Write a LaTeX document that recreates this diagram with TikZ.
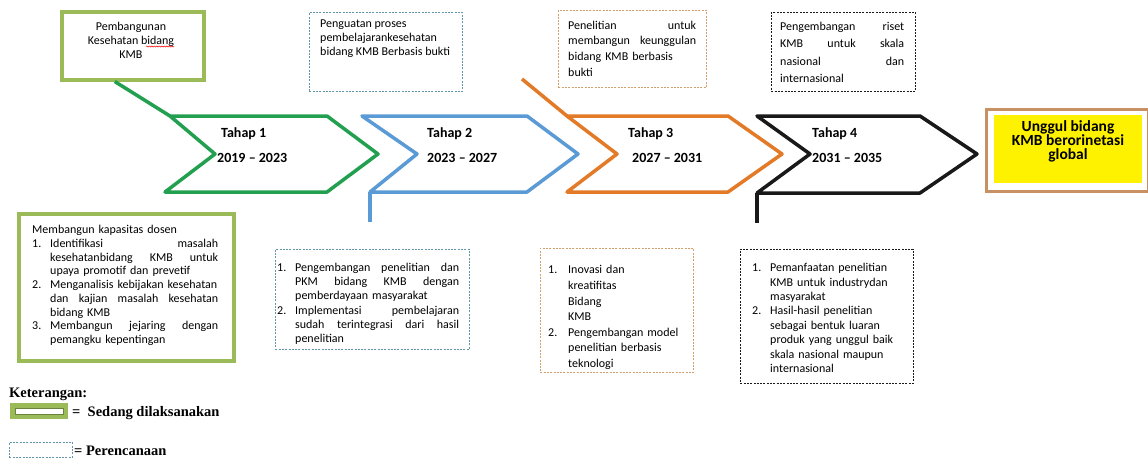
\documentclass[tikz,border=0pt]{standalone}
\usepackage{fontspec}
\setmainfont{Carlito}
\newfontfamily\legendfont{Liberation Serif}
\usetikzlibrary{positioning,decorations.pathmorphing}

\definecolor{tgreen}{RGB}{34,160,80}
\definecolor{tblue}{RGB}{91,155,213}
\definecolor{torange}{RGB}{226,122,40}
\definecolor{tblack}{RGB}{25,25,25}
\definecolor{olivebox}{RGB}{155,187,89}
\definecolor{dblue}{RGB}{100,150,170}
\definecolor{dorange}{RGB}{210,160,110}
\definecolor{goaltan}{RGB}{200,145,100}

\tikzset{
  chev/.style={line width=3.5pt, line join=round},
  donebox/.style={draw=olivebox, line width=3.5pt, anchor=north west, inner sep=0pt},
  planbox/.style={draw=#1, dash pattern=on 2pt off 1.3pt, line width=0.7pt, anchor=north west, inner sep=0pt},
  boxtext/.style={font=\fontsize{12}{14}\selectfont, inner sep=0pt, align=left, anchor=north west},
  tahap/.style={font=\bfseries\fontsize{14}{16}\selectfont, inner sep=0pt, anchor=base west},
  legendtext/.style={font=\legendfont\bfseries\fontsize{14.5}{16}\selectfont, inner sep=0pt, anchor=base west}
}

\newcommand{\numitem}[3][18pt]{\par\noindent\hangindent=#1\hangafter=1\makebox[#1][l]{#2}#3}

\begin{document}
\begin{tikzpicture}[x=1pt,y=-1pt]
\useasboundingbox (0,0) rectangle (1148,459);

% boxes above the arrows
\node[donebox, minimum width=142pt, minimum height=68pt] (b1) at (60,10) {};
\node[boxtext, anchor=north, align=center] (b1t) at (131,21.5) {Pembangunan\\Kesehatan bidang\\KMB};
\draw[red, line width=0.5pt, decorate, decoration={snake, amplitude=0.6pt, segment length=2.5pt}] ([shift={(15pt,-25pt)}]b1t.north) -- ++(28,0);

\node[planbox=dblue, minimum width=153pt, minimum height=79pt] (b2) at (309,12) {};
\node[boxtext] (b2t) at (320,20) {Penguatan proses\\pembelajarankesehatan\\bidang KMB Berbasis bukti};

\node[planbox=dorange, minimum width=148pt, minimum height=77pt] (b3) at (558,10) {};
\node[boxtext, text width=128pt, font=\fontsize{12}{15.8}\selectfont] (b3t) at (568,20.5) {Penelitian\hfill untuk\newline membangun\hfill keunggulan\newline bidang KMB berbasis\newline bukti};

\node[planbox=tblack, minimum width=144pt, minimum height=79pt] (b4) at (771,12) {};
\node[boxtext, text width=124pt, font=\fontsize{12}{17.6}\selectfont] (b4t) at (780,21.5) {Pengembangan\hfill riset\newline KMB\hfill untuk\hfill skala\newline nasional\hfill dan\newline internasional};

% the four stages
\draw[chev, tgreen] (170,116) coordinate (g1) -- (327,116) -- (378,154) -- (327,192) -- (165,192) -- (215,154) -- cycle;
\draw[chev, tgreen] ([xshift=-18pt]b1.south) -- (g1);
\node[tahap] (t1) at (221,137) {Tahap 1};
\node[tahap] (y1) at (217,162) {2019 -- 2023};

\draw[chev, tblue] (362,116) -- (527,116) -- (578,154) -- (527,192) -- (370,192) coordinate (g2) -- (417,154) -- cycle;
\coordinate (g2end) at (370,222);
\draw[chev, tblue] (g2) -- (g2end);
\node[tahap] (t2) at (427,137) {Tahap 2};
\node[tahap] (y2) at (427,162) {2023 -- 2027};

\draw[chev, torange] (567,116) coordinate (g3) -- (728,116) -- (782,154) -- (728,192) -- (567,192) -- (617,154) -- cycle;
\coordinate (g3end) at (522,79);
\draw[chev, torange] (g3end) -- (g3);
\node[tahap] (t3) at (628,137) {Tahap 3};
\node[tahap] (y3) at (632,162) {2027 -- 2031};

\draw[chev, tblack] (757,116) -- (920,116) -- (977,154) -- (920,193) -- (757,193) coordinate (g4) -- (810,154) -- cycle;
\coordinate (g4end) at (757,223);
\draw[chev, tblack] (g4) -- (g4end);
\node[tahap] (t4) at (812,137) {Tahap 4};
\node[tahap] (y4) at (812,162) {2031 -- 2035};

% goal
\node[draw=goaltan, line width=2.5pt, minimum width=162pt, minimum height=82pt, anchor=north west, inner sep=0pt] (goalbox) at (985,108) {};
\node[fill=yellow, minimum width=148pt, minimum height=68pt, anchor=north west, inner sep=0pt] (goalfill) at (994,115) {};
\node[font=\bfseries\fontsize{15.5}{14}\selectfont, align=center, inner sep=0pt] (goal) at (1068,141) {Unggul bidang\\KMB berorinetasi\\global};

% boxes below the arrows
\node[donebox, minimum width=215pt, minimum height=147pt] (b5) at (17,212) {};
\node[boxtext, text width=186pt, font=\fontsize{12}{13.75}\selectfont] (b5t) at (32,225) {Membangun kapasitas dosen
\numitem{1.}{Identifikasi\hfill masalah\newline kesehatanbidang\hfill KMB\hfill untuk\newline upaya promotif dan prevetif}
\numitem{2.}{Menganalisis kebijakan kesehatan\newline dan\hfill kajian\hfill masalah\hfill kesehatan\newline bidang KMB}
\numitem{3.}{Membangun\hfill jejaring\hfill dengan\newline pemangku kepentingan}\par};

\node[planbox=dblue, minimum width=194pt, minimum height=100pt] (b6) at (275,249) {};
\node[boxtext, text width=182pt, font=\fontsize{12}{14.2}\selectfont] (b6t) at (277,257) {\numitem{1.}{Pengembangan\hfill penelitian\hfill dan\newline PKM\hfill bidang\hfill KMB\hfill dengan\newline pemberdayaan masyarakat}
\numitem{2.}{Implementasi\hfill pembelajaran\newline sudah\hfill terintegrasi\hfill dari\hfill hasil\newline penelitian}\par};

\node[planbox=dorange, minimum width=153pt, minimum height=124pt] (b7) at (540,248) {};
\node[boxtext, text width=140pt, font=\fontsize{12}{15.6}\selectfont] (b7t) at (548,258) {\numitem[20pt]{1.}{Inovasi dan\newline kreatifitas\newline Bidang\newline KMB}
\numitem[20pt]{2.}{Pengembangan model\newline penelitian berbasis\newline teknologi}\par};

\node[planbox=tblack, minimum width=173pt, minimum height=134pt] (b8) at (740,249) {};
\node[boxtext, text width=150pt, font=\fontsize{12}{14.4}\selectfont] (b8t) at (752,257) {\numitem{1.}{Pemanfaatan penelitian\newline KMB untuk industrydan\newline masyarakat}
\numitem{2.}{Hasil-hasil penelitian\newline sebagai bentuk luaran\newline produk yang unggul baik\newline skala nasional maupun\newline internasional}\par};

% legend
\node[legendtext] (ket) at (9,397) {Keterangan:};
\node[fill=olivebox, minimum width=58pt, minimum height=16pt, anchor=north west, inner sep=0pt] (sw1) at (10,403) {};
\node[draw=olivebox!70!black, line width=0.4pt, fill=white, minimum width=48pt, minimum height=6pt, inner sep=0pt] (sw1in) at (sw1.center) {};
\node[legendtext] (l1) at (72,416.5) {=\ \ Sedang dilaksanakan};
\node[planbox=dblue, minimum width=63pt, minimum height=15pt] (sw2) at (9,442) {};
\node[legendtext] (l2) at (74,455) {= Perencanaan};
\end{tikzpicture}
\end{document}
